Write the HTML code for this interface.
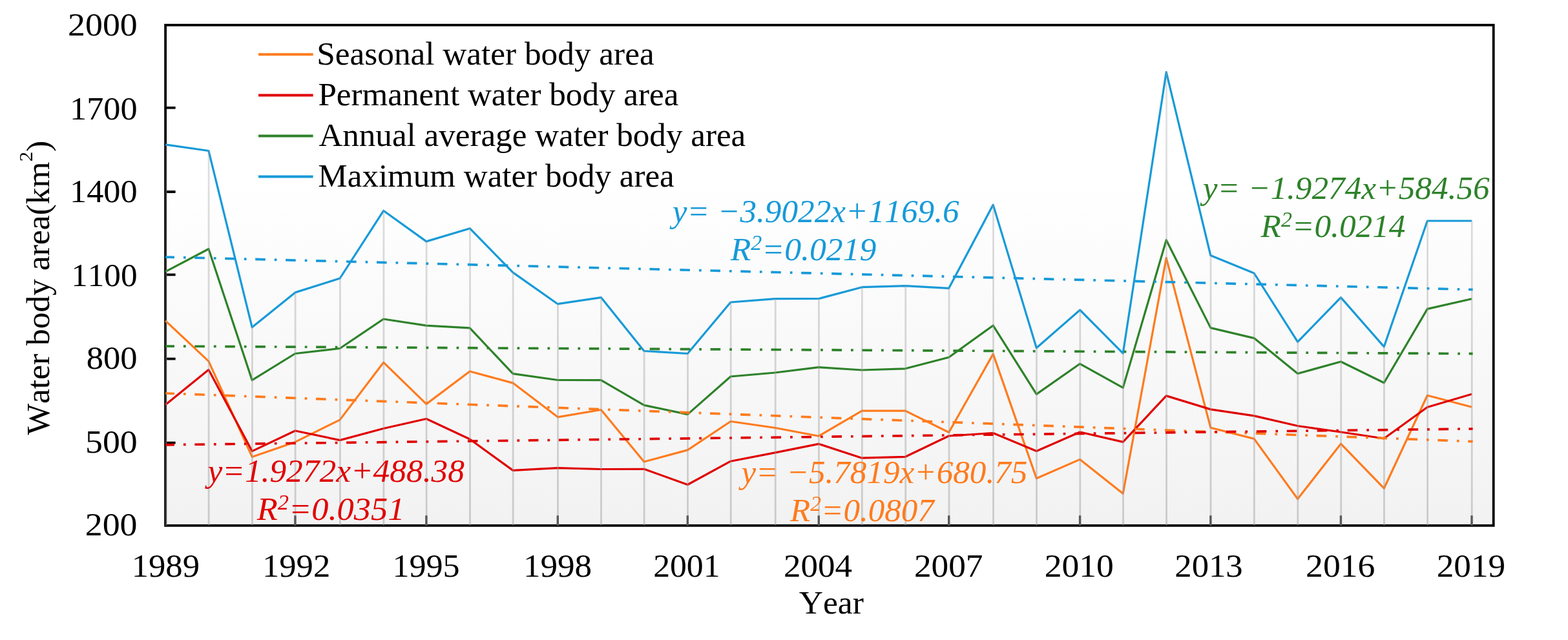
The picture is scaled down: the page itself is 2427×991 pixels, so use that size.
<!DOCTYPE html>
<html><head><meta charset="utf-8"><style>
html,body{margin:0;padding:0;background:#fff;}
body{width:2427px;height:991px;overflow:hidden;}
svg{display:block;}
text{font-family:"Liberation Serif","Times New Roman",serif;font-size:50px;font-kerning:none;}
</style></head><body>
<svg width="2427" height="991" viewBox="0 0 2427 991">
<defs><linearGradient id="bg" x1="0" y1="0" x2="0" y2="1">
<stop offset="0" stop-color="#ffffff"/><stop offset="0.316" stop-color="#ffffff"/><stop offset="1" stop-color="#f2f2f2"/></linearGradient>
<linearGradient id="dlg" gradientUnits="userSpaceOnUse" x1="0" y1="38.8" x2="0" y2="813.8"><stop offset="0" stop-color="#9b9b9b" stop-opacity="0.27"/><stop offset="1" stop-color="#9b9b9b" stop-opacity="0.46"/></linearGradient></defs>
<rect x="0" y="0" width="2427" height="991" fill="#fff"/>
<rect x="256.1" y="38.8" width="2055.6" height="775.0" fill="url(#bg)"/>
<rect x="256.1" y="38.8" width="2055.6" height="775.0" fill="none" stroke="#000" stroke-width="3.8"/>
<path d="M256.1,685.6H271.6M256.1,555.6H271.6M256.1,425.4H271.6M256.1,297.0H271.6M256.1,166.9H271.6" stroke="#000" stroke-width="3.8" fill="none"/>
<polyline points="256.1,496.7 322.9,559.3 390.2,707.4 456.9,684.4 526.1,650.1 593.6,561.2 659.9,625.6 727.2,575.0 793.9,593.1 863.3,645.8 930.3,634.5 996.9,715.0 1064.3,696.9 1130.9,652.5 1199.9,662.5 1267.3,675.2 1334.1,636.1 1401.4,636.1 1468.7,669.5 1537.2,548.1 1604.3,740.7 1671.6,711.4 1738.2,764.3 1805.2,399.4 1873.8,662.2 1941.1,679.4 2008.6,772.6 2075.4,687.2 2142.2,756.2 2209.3,612.3 2278.0,630.3" fill="none" stroke="#FF7B1E" stroke-width="3.2" stroke-linejoin="round"/>
<polyline points="256.1,626.7 322.9,572.6 390.2,698.6 456.9,667.0 526.1,681.6 593.6,663.5 659.9,648.5 727.2,680.0 793.9,728.4 863.3,724.7 930.3,726.5 996.9,726.3 1064.3,750.5 1130.9,714.2 1199.9,700.9 1267.3,687.4 1334.1,709.2 1401.4,707.3 1468.7,675.0 1537.2,670.5 1604.3,698.5 1671.6,669.0 1738.2,684.4 1805.2,612.9 1873.8,633.9 1941.1,643.9 2008.6,659.5 2075.4,669.0 2142.2,679.0 2209.3,630.5 2278.0,610.2" fill="none" stroke="#E00000" stroke-width="3.2" stroke-linejoin="round"/>
<polyline points="256.1,420.6 322.9,385.5 390.2,588.7 456.9,547.5 526.1,539.5 593.6,494.0 659.9,504.2 727.2,507.9 793.9,578.7 863.3,588.5 930.3,588.7 996.9,627.4 1064.3,641.6 1130.9,583.0 1199.9,577.0 1267.3,568.6 1334.1,573.0 1401.4,570.8 1468.7,553.3 1537.2,504.0 1604.3,610.4 1671.6,563.3 1738.2,600.4 1805.2,371.7 1873.8,507.6 1941.1,523.6 2008.6,578.5 2075.4,560.0 2142.2,592.7 2209.3,478.4 2278.0,462.7" fill="none" stroke="#2E822A" stroke-width="3.2" stroke-linejoin="round"/>
<polyline points="256.1,223.8 322.9,233.5 390.2,506.8 456.9,452.9 526.1,431.0 593.6,326.3 659.9,373.9 727.2,353.7 793.9,421.9 863.3,470.7 930.3,460.6 996.9,543.5 1064.3,547.5 1130.9,468.0 1199.9,462.7 1267.3,462.5 1334.1,444.7 1401.4,442.7 1468.7,446.3 1537.2,317.1 1604.3,538.7 1671.6,480.0 1738.2,547.1 1805.2,111.6 1873.8,395.5 1941.1,423.0 2008.6,529.3 2075.4,460.6 2142.2,536.9 2209.3,342.0 2278.0,342.0" fill="none" stroke="#179AD8" stroke-width="3.2" stroke-linejoin="round"/>
<path d="M257.4,222.8V813.8M323.1,232.5V813.8M390.4,505.8V813.8M457.1,451.9V813.8M526.4,430.0V813.8M593.9,325.3V813.8M660.1,372.9V813.8M727.5,352.7V813.8M794.1,420.9V813.8M863.5,469.7V813.8M930.5,459.6V813.8M997.1,542.5V813.8M1064.5,546.5V813.8M1131.2,467.0V813.8M1200.2,461.7V813.8M1267.5,461.5V813.8M1334.3,443.7V813.8M1401.7,441.7V813.8M1469.0,445.3V813.8M1537.5,316.1V813.8M1604.5,537.7V813.8M1671.8,479.0V813.8M1738.5,546.1V813.8M1805.5,110.6V813.8M1874.0,394.5V813.8M1941.3,422.0V813.8M2008.8,528.3V813.8M2075.7,459.6V813.8M2142.4,535.9V813.8M2209.6,341.0V813.8M2278.2,341.0V813.8" stroke="url(#dlg)" stroke-width="2.8" fill="none"/>
<path d="M456.9,798.3V813.8M659.9,798.3V813.8M863.3,798.3V813.8M1064.3,798.3V813.8M1267.3,798.3V813.8M1468.7,798.3V813.8M1671.6,798.3V813.8M1873.8,798.3V813.8M2075.4,798.3V813.8M2278.0,798.3V813.8" stroke="#5a5a5a" stroke-width="3.4" fill="none"/>
<line x1="256.1" y1="398.0" x2="2279.6" y2="448.44" stroke="#179AD8" stroke-width="3.7" stroke-dasharray="15.6 14 3.7 13.66" stroke-dashoffset="1.76"/>
<line x1="256.1" y1="536.0" x2="2279.6" y2="547.71" stroke="#2E822A" stroke-width="3.7" stroke-dasharray="15.6 14 3.7 13.66" stroke-dashoffset="1.76"/>
<line x1="256.1" y1="609.0" x2="2279.6" y2="683.56" stroke="#FF7B1E" stroke-width="3.7" stroke-dasharray="15.6 14 3.7 13.66" stroke-dashoffset="1.76"/>
<line x1="256.1" y1="688.8" x2="2279.6" y2="663.98" stroke="#E00000" stroke-width="3.7" stroke-dasharray="15.6 14 3.7 13.66" stroke-dashoffset="1.76"/>
<line x1="400" y1="84.2" x2="484.6" y2="84.2" stroke="#FF7B1E" stroke-width="4"/>
<line x1="400" y1="147.4" x2="484.6" y2="147.4" stroke="#E00000" stroke-width="4"/>
<line x1="400" y1="210.5" x2="484.6" y2="210.5" stroke="#2E822A" stroke-width="4"/>
<line x1="400" y1="273.5" x2="484.6" y2="273.5" stroke="#179AD8" stroke-width="4"/>
<text x="211.00" y="829.30" text-anchor="end" fill="#000" style="" transform="matrix(1.07746,0,0,1.01500,-14.790,-12.439)">200</text>
<text x="211.00" y="700.80" text-anchor="end" fill="#000" style="" transform="matrix(1.07571,0,0,1.01500,-14.324,-10.512)">500</text>
<text x="211.00" y="570.60" text-anchor="end" fill="#000" style="" transform="matrix(1.05211,0,0,1.01500,-9.392,-8.559)">800</text>
<text x="211.00" y="442.70" text-anchor="end" fill="#000" style="" transform="matrix(1.02447,0,0,1.01500,-3.614,-6.640)">1100</text>
<text x="211.00" y="312.70" text-anchor="end" fill="#000" style="" transform="matrix(1.04574,0,0,1.01500,-8.061,-4.690)">1400</text>
<text x="211.00" y="184.70" text-anchor="end" fill="#000" style="" transform="matrix(1.04574,0,0,1.01500,-8.061,-2.770)">1700</text>
<text x="211.00" y="54.60" text-anchor="end" fill="#000" style="" transform="matrix(1.07656,0,0,1.01500,-14.402,-0.819)">2000</text>
<text x="256.10" y="892.70" text-anchor="middle" fill="#000" style="" transform="matrix(1.05319,0,0,1.01500,-13.370,-13.390)">1989</text>
<text x="456.90" y="892.70" text-anchor="middle" fill="#000" style="" transform="matrix(1.05269,0,0,1.01500,-22.355,-13.390)">1992</text>
<text x="659.90" y="892.70" text-anchor="middle" fill="#000" style="" transform="matrix(1.04149,0,0,1.01500,-27.774,-13.390)">1995</text>
<text x="863.30" y="892.70" text-anchor="middle" fill="#000" style="" transform="matrix(1.06129,0,0,1.01500,-53.235,-13.390)">1998</text>
<text x="1064.30" y="892.70" text-anchor="middle" fill="#000" style="" transform="matrix(1.03474,0,0,1.01500,-38.393,-13.390)">2001</text>
<text x="1267.30" y="892.70" text-anchor="middle" fill="#000" style="" transform="matrix(1.05876,0,0,1.01500,-75.732,-13.390)">2004</text>
<text x="1468.70" y="892.70" text-anchor="middle" fill="#000" style="" transform="matrix(1.06562,0,0,1.01500,-96.853,-13.390)">2007</text>
<text x="1671.60" y="892.70" text-anchor="middle" fill="#000" style="" transform="matrix(1.07292,0,0,1.01500,-123.217,-13.390)">2010</text>
<text x="1873.80" y="892.70" text-anchor="middle" fill="#000" style="" transform="matrix(1.05417,0,0,1.01500,-104.308,-13.390)">2013</text>
<text x="2075.40" y="892.70" text-anchor="middle" fill="#000" style="" transform="matrix(1.07292,0,0,1.01500,-151.975,-13.390)">2016</text>
<text x="2278.00" y="892.70" text-anchor="middle" fill="#000" style="" transform="matrix(1.06458,0,0,1.01500,-148.221,-13.390)">2019</text>
<text x="1287.00" y="949.80" text-anchor="middle" fill="#000" style="" transform="matrix(1.03125,0,0,1.01500,-40.419,-14.247)">Year</text>
<text x="492.00" y="99.70" text-anchor="start" fill="#000" style="" transform="matrix(1.02549,0,0,1.01500,-14.220,-1.495)">Seasonal water body area</text>
<text x="492.00" y="162.90" text-anchor="start" fill="#000" style="" transform="matrix(1.02335,0,0,1.01500,-11.109,-2.443)">Permanent water body area</text>
<text x="492.00" y="226.00" text-anchor="start" fill="#000" style="" transform="matrix(1.02198,0,0,1.01500,-9.415,-3.390)">Annual average water body area</text>
<text x="492.00" y="289.00" text-anchor="start" fill="#000" style="" transform="matrix(1.02115,0,0,1.01500,-10.027,-4.335)">Maximum water body area</text>
<text x="1260.30" y="343.80" text-anchor="middle" fill="#179AD8" style="font-style:italic;" transform="matrix(1.02523,0,0,1.01500,-29.439,-5.157)">y= −3.9022x+1169.6</text>
<text x="1243.00" y="403.10" text-anchor="middle" fill="#179AD8" style="font-style:italic;" transform="matrix(1.03410,0,0,1.01500,-41.871,-6.046)">R<tspan font-size="33" dy="-16">2</tspan><tspan dy="16">=0.0219</tspan></text>
<text x="2081.30" y="308.10" text-anchor="middle" fill="#2E822A" style="font-style:italic;" transform="matrix(1.02523,0,0,1.01500,-50.152,-4.621)">y= −1.9274x+584.56</text>
<text x="2063.00" y="367.40" text-anchor="middle" fill="#2E822A" style="font-style:italic;" transform="matrix(1.02581,0,0,1.01500,-52.726,-5.511)">R<tspan font-size="33" dy="-16">2</tspan><tspan dy="16">=0.0214</tspan></text>
<text x="517.55" y="746.30" text-anchor="middle" fill="#E00000" style="font-style:italic;" transform="matrix(1.02744,0,0,1.01500,-11.579,-11.194)">y=1.9272x+488.38</text>
<text x="508.95" y="805.20" text-anchor="middle" fill="#E00000" style="font-style:italic;" transform="matrix(1.04764,0,0,1.01500,-21.157,-12.078)">R<tspan font-size="33" dy="-16">2</tspan><tspan dy="16">=0.0351</tspan></text>
<text x="1365.90" y="748.00" text-anchor="middle" fill="#FF7B1E" style="font-style:italic;" transform="matrix(1.02294,0,0,1.01500,-28.361,-11.220)">y= −5.7819x+680.75</text>
<text x="1335.20" y="807.30" text-anchor="middle" fill="#FF7B1E" style="font-style:italic;" transform="matrix(1.02000,0,0,1.01500,-27.520,-12.109)">R<tspan font-size="33" dy="-16">2</tspan><tspan dy="16">=0.0807</tspan></text>
<g transform="translate(0,0)"><text transform="matrix(0,-1.03023,1.01500,0,75.900,673.609)" x="0" y="0">Water body area(km<tspan font-size="30" dy="-26">2</tspan><tspan dy="26">)</tspan></text></g>
</svg></body></html>
